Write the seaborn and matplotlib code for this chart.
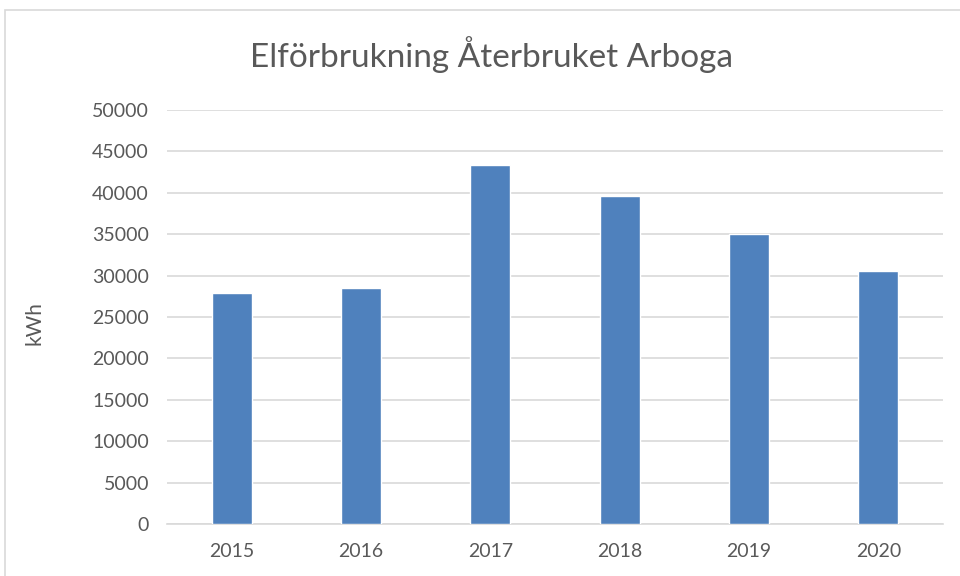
import matplotlib
matplotlib.use('Agg')
import matplotlib.pyplot as plt
import matplotlib.patches as mpatches
import seaborn as sns
import pandas as pd

# Data
years = ['2015', '2016', '2017', '2018', '2019', '2020']
kwh = [27850, 28550, 43300, 39650, 35050, 30500]

df = pd.DataFrame({'År': years, 'kWh': kwh})

sns.set_theme(style='white')
plt.rcParams['font.family'] = ['Lato', 'DejaVu Sans']

grey = '#595959'
fig = plt.figure(figsize=(9.6, 5.76), dpi=100)
ax = fig.add_axes([167 / 960, 1 - 524 / 576, 776 / 960, 414 / 576])

sns.barplot(x='År', y='kWh', data=df, color='#4F81BD', width=0.31, ax=ax,
            saturation=1, zorder=3)

ax.set_ylim(0, 50000)
ax.set_yticks(range(0, 50001, 5000))
ax.grid(axis='y', color='#D9D9D9', linewidth=1.2, zorder=0)
ax.set_axisbelow(True)
for s in ['top', 'right', 'left']:
    ax.spines[s].set_visible(False)
ax.spines['bottom'].set_color('#D9D9D9')
ax.spines['bottom'].set_linewidth(1.2)
ax.tick_params(axis='both', length=0, labelsize=14, colors=grey)
ax.tick_params(axis='y', pad=13)
ax.tick_params(axis='x', pad=14)
ax.set_xlabel('')
ax.set_ylabel('')
fig.text(35 / 960, 1 - 323 / 576, 'kWh', rotation=90, ha='center', va='center',
         fontsize=15, color=grey)
fig.text(0.512, 0.905, 'Elförbrukning Återbruket Arboga', ha='center', va='center',
         fontsize=24, color=grey)

# chart frame
fig.patches.append(mpatches.Rectangle((5 / 960, -0.05), 1.0, 1 - 10 / 576 + 0.05,
                                      transform=fig.transFigure, fill=False,
                                      edgecolor='#D9D9D9', linewidth=1.2))

fig.savefig('out.png', dpi=100)
